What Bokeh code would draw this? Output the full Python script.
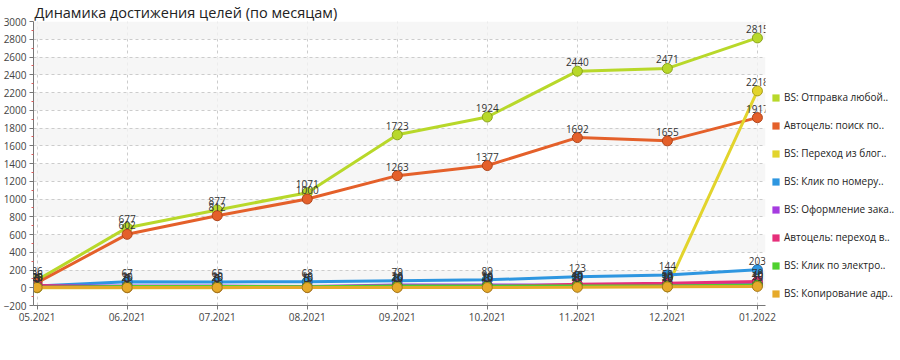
from bokeh.plotting import figure
from bokeh.models import ColumnDataSource, Legend, LegendItem, LabelSet, FixedTicker, Range1d
from bokeh.core.properties import value
from bokeh.embed import file_html
from bokeh.resources import INLINE

months = ["05.2021", "06.2021", "07.2021", "08.2021", "09.2021", "10.2021", "11.2021", "12.2021", "01.2022"]

series_names = [
    "BS: Отправка любой..",
    "Автоцель: поиск по..",
    "BS: Переход из блог..",
    "BS: Клик по номеру..",
    "BS: Оформление зака..",
    "Автоцель: переход в..",
    "BS: Клик по электро..",
    "BS: Копирование адр..",
]
s_lime = [86, 677, 877, 1071, 1723, 1924, 2440, 2471, 2815]
s_orange = [56, 602, 812, 1000, 1263, 1377, 1692, 1655, 1917]
s_yellow = [0, 0, 0, 5, 10, 15, 15, 10, 2218]
s_blue = [20, 67, 65, 68, 79, 89, 123, 144, 203]
s_purple = [20, 20, 20, 15, 30, 30, 30, 30, 40]
s_pink = [25, 5, 5, 5, 10, 10, 40, 50, 70]
s_green = [5, 15, 15, 10, 20, 20, 20, 20, 30]
s_gold = [3, 3, 3, 3, 3, 3, 5, 10, 15]
all_series = [s_lime, s_orange, s_yellow, s_blue, s_purple, s_pink, s_green, s_gold]

colors = ["#b8d82a", "#e4602a", "#e2d42c", "#2e96e0", "#a63be0", "#e62f7a", "#4fd12e", "#e6aa2a"]
outlines = ["#8aa41a", "#b0441a", "#a89c1a", "#1c6aa8", "#7a22a8", "#a81e58", "#359a1e", "#a87a1a"]

x = list(range(len(months)))

p = figure(frame_width=732, frame_height=284, output_backend="svg", toolbar_location=None,
           x_range=Range1d(-0.04, 8.09), y_range=Range1d(-200, 3000),
           min_border_left=28, min_border_right=124, min_border_top=0, min_border_bottom=22,
           title="Динамика достижения целей (по месяцам)")
p.outline_line_color = None
p.background_fill_color = "white"
p.title.text_font = "Open Sans"
p.title.text_font_size = "14.5px"
p.title.text_font_style = "normal"
p.title.text_color = "#222222"
p.title.standoff = 0
p.title.offset = 1

p.ygrid.grid_line_color = "#cccccc"
p.ygrid.grid_line_dash = "3 3"
p.ygrid.band_fill_color = "#f4f4f4"
p.ygrid.band_fill_alpha = 0.8
p.xgrid.grid_line_color = "#cccccc"
p.xgrid.grid_line_dash = "3 3"

p.yaxis.ticker = FixedTicker(ticks=list(range(-200, 3001, 200)),
                             minor_ticks=list(range(-100, 3000, 200)))
p.xaxis.ticker = FixedTicker(ticks=x)
p.xaxis.major_label_overrides = {i: m for i, m in enumerate(months)}
for ax in (p.xaxis, p.yaxis):
    ax.axis_line_color = "#777777"
    ax.major_tick_line_color = "#777777"
    ax.major_tick_out = 4
    ax.major_tick_in = 0
    ax.major_label_text_font = "Open Sans"
    ax.major_label_text_font_size = "10px"
    ax.major_label_text_color = "#444444"
    ax.major_label_standoff = 3
p.yaxis.minor_tick_line_color = "#e05a5a"
p.yaxis.minor_tick_out = 2
p.yaxis.minor_tick_in = 0
p.xaxis.minor_tick_line_color = None

items = []
for name, vals, c, oc in zip(series_names, all_series, colors, outlines):
    src = ColumnDataSource(dict(x=x, y=vals, t=[str(v) for v in vals]))
    p.line("x", "y", source=src, line_color=c, line_width=3)
    p.scatter("x", "y", source=src, size=10, fill_color=c, line_color=oc, line_width=1)
    sq = p.rect(x="x", y="y", width=0, height=0, source=src, fill_color=c, line_color=None)
    items.append(LegendItem(label=name, renderers=[sq]))

for vals in all_series:
    src = ColumnDataSource(dict(x=x, y=vals, t=[str(v) for v in vals]))
    p.add_layout(LabelSet(x="x", y="y", text="t", source=src, text_font=value("Open Sans"),
                          text_font_size=value("10px"), text_color="#333333", text_align="center",
                          text_baseline="bottom", y_offset=5))

legend = Legend(items=items, location=(6, 4), orientation="vertical",
                label_text_font="Open Sans", label_text_font_size="10px", label_text_color="#222222",
                glyph_width=9, glyph_height=9, spacing=12, label_height=16, label_standoff=4,
                background_fill_alpha=0, border_line_color=None, padding=0, margin=0)
p.add_layout(legend, "right")

open("out.html", "w").write(file_html(p, INLINE))
